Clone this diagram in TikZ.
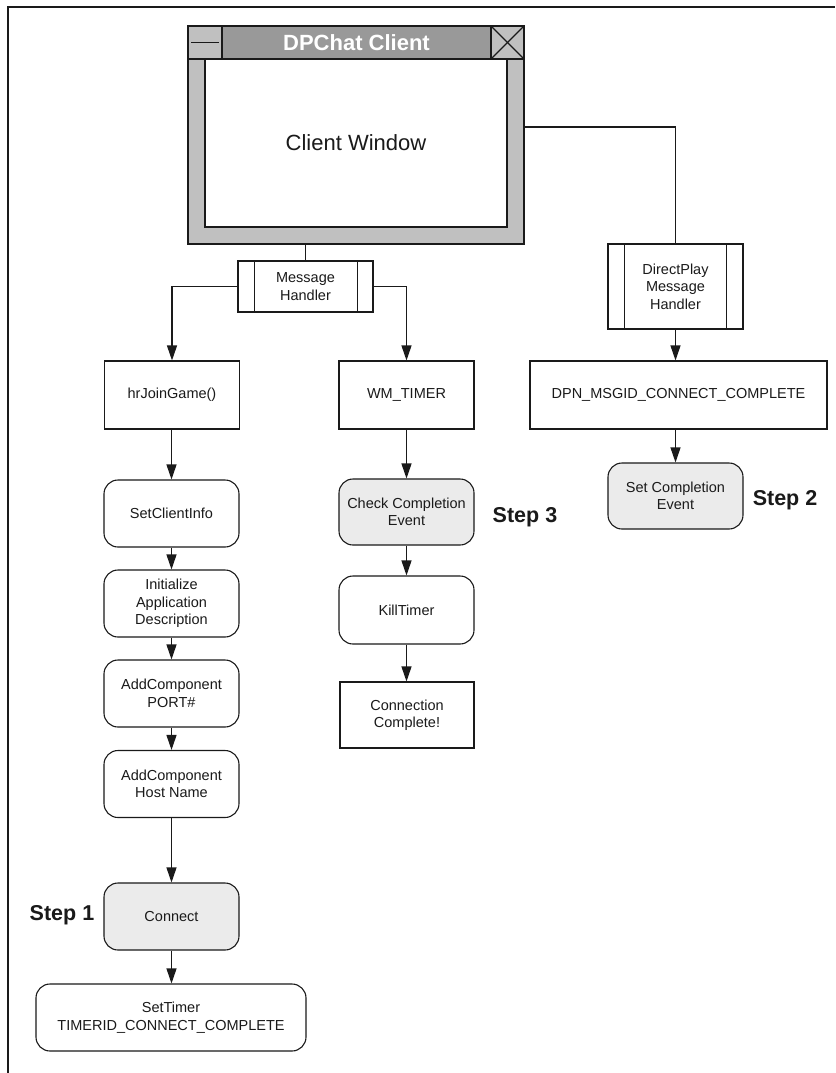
\documentclass[tikz,border=0pt]{standalone}
\usepackage{fontspec}
\setmainfont{Liberation Sans}
\usetikzlibrary{arrows.meta}
\definecolor{framegray}{HTML}{C0C0C0}
\definecolor{titlegray}{HTML}{999999}
\definecolor{stepgray}{HTML}{EBEBEB}
\definecolor{ink}{HTML}{1A1A1A}
\tikzset{
  box/.style={draw=ink, line width=1.1pt, minimum width=135pt, minimum height=67pt,
    align=center, text=ink, inner sep=2pt, font=\fontsize{14.5}{17.5}\selectfont},
  rbox/.style={box, rounded corners=14pt},
  sbox/.style={rbox, fill=stepgray},
  handler/.style={box, minimum height=51pt},
  arr/.style={draw=ink, line width=1.1pt, -{Triangle[length=15pt,width=10pt]}},
  link/.style={draw=ink, line width=1.1pt},
  steplabel/.style={font=\fontsize{21.5}{24}\selectfont\bfseries, text=ink},
}
\begin{document}
\begin{tikzpicture}[x=1pt,y=-1pt]
\useasboundingbox (0,0) rectangle (835,1073);
\fill[white] (0,0) rectangle (835,1073);
% outer frame (only top and left edges visible)
\draw[ink, line width=2pt] (8,1073) -- (8,7.5) -- (835,7.5);

% window
\node[draw=ink, line width=1.1pt, fill=framegray, minimum width=336pt, minimum height=218pt, inner sep=0pt] (win) at (356,135) {};
\node[draw=ink, line width=1.1pt, fill=titlegray, minimum width=269pt, minimum height=33pt, inner sep=0pt,
  text=white, font=\fontsize{22}{24}\selectfont\bfseries] (title) at (356.5,42.5) {DPChat Client};
\node[draw=ink, line width=1.1pt, fill=framegray, minimum width=34pt, minimum height=33pt, inner sep=0pt] (minbox) at (205,42.5) {};
\node[draw=ink, line width=1.1pt, fill=framegray, minimum width=33pt, minimum height=33pt, inner sep=0pt] (closebox) at (507.5,42.5) {};
\draw[ink, line width=1.1pt] ([xshift=4pt]minbox.west) -- ([xshift=-4pt]minbox.east);
\draw[ink, line width=1.1pt] (closebox.north west) -- (closebox.south east);
\draw[ink, line width=1.1pt] (closebox.south west) -- (closebox.north east);
\node[draw=ink, line width=1.1pt, fill=white, minimum width=302pt, minimum height=168pt, inner sep=0pt,
  text=ink, font=\fontsize{22}{24}\selectfont] (client) at (356,143) {Client Window};

% handlers
\node[handler] (mh) at (305.5,286.5) {Message\\Handler};
\draw[link] ([xshift=17pt]mh.north west) -- ([xshift=17pt]mh.south west);
\draw[link] ([xshift=-16pt]mh.north east) -- ([xshift=-16pt]mh.south east);
\node[box, minimum height=85pt] (dph) at (675.5,286.5) {DirectPlay\\Message\\Handler};
\draw[link] ([xshift=17pt]dph.north west) -- ([xshift=17pt]dph.south west);
\draw[link] ([xshift=-17pt]dph.north east) -- ([xshift=-17pt]dph.south east);

% row of first boxes
\node[box, minimum height=68pt] (hr) at (172,395) {hrJoinGame()};
\node[box, minimum height=68pt] (wm) at (406.5,395) {WM\_TIMER};
\node[box, minimum height=68pt, minimum width=297pt] (dpn) at (678.5,395) {DPN\_MSGID\_CONNECT\_COMPLETE};

% left column
\node[rbox] (sci) at (171.5,513.5) {SetClientInfo};
\node[rbox] (init) at (171.5,603.5) {Initialize\\Application\\Description};
\node[rbox] (port) at (171.5,693.5) {AddComponent\\PORT\#};
\node[rbox] (host) at (171.5,784) {AddComponent\\Host Name};
\node[sbox] (conn) at (171.5,916.5) {Connect};
\node[rbox, minimum width=270pt] (st) at (171,1017.5) {SetTimer\\TIMERID\_CONNECT\_COMPLETE};

% middle column
\node[sbox, minimum height=66pt] (cce) at (406.5,512) {Check Completion\\Event};
\node[rbox, minimum height=68pt] (kt) at (406.5,610) {KillTimer};
\node[box, minimum height=66pt, minimum width=134pt] (cc) at (407,715) {Connection\\Complete!};

% right column
\node[sbox, minimum height=66pt] (sce) at (675.5,496) {Set Completion\\Event};

% step labels
\node[steplabel] (s1) at (62,915) {Step 1};
\node[steplabel] (s3) at (525,517) {Step 3};
\node[steplabel] (s2) at (785,500) {Step 2};

% connectors
\draw[link] (mh.north |- win.south) -- (mh.north);
\draw[link] ([yshift=8pt]win.east) -| (dph.north);
\draw[arr] (mh.west) -| (hr.north);
\draw[arr] (mh.east) -| (wm.north);
\draw[arr] (dph.south) -- (dpn.north -| dph.south);
\draw[arr] (dpn.south -| sce.north) -- (sce.north);
\draw[arr] (hr.south -| sci.north) -- (sci.north);
\draw[arr] (sci) -- (init);
\draw[arr] (init) -- (port);
\draw[arr] (port) -- (host);
\draw[arr] (host) -- (conn);
\draw[arr] (conn.south) -- (conn.south |- st.north);
\draw[arr] (wm) -- (cce);
\draw[arr] (cce) -- (kt);
\draw[arr] (kt.south) -- (kt.south |- cc.north);
\end{tikzpicture}
\end{document}
